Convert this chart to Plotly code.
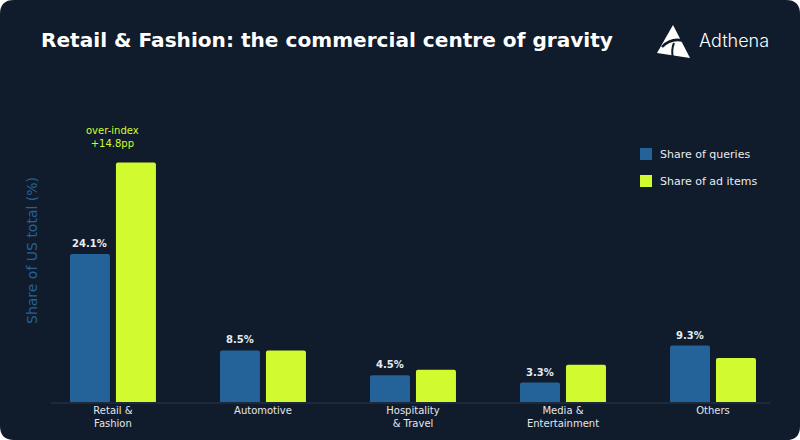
import plotly.graph_objects as go

categories = ["Retail &<br>Fashion", "Automotive", "Hospitality<br>& Travel", "Media &<br>Entertainment", "Others"]
share_queries = [24.1, 8.5, 4.5, 3.3, 9.3]
share_ad_items = [38.9, 8.5, 5.4, 6.2, 7.3]
query_labels = ["24.1%", "8.5%", "4.5%", "3.3%", "9.3%"]
series_names = ["Share of queries", "Share of ad items"]

BG = "#101b2b"
BLUE = "#24629a"
GREEN = "#d2fb2f"
FONT = "DejaVu Sans"

W, H = 800, 440
L, R, T, B = 51, 30, 100, 37
PW, PH = W - L - R, H - T - B

def px(x):
    return (x - L) / PW

def py(y):
    return (H - B - y) / PH

idx = list(range(len(categories)))
colors = [BLUE, GREEN]

fig = go.Figure()
for name, vals, c in zip(series_names, [share_queries, share_ad_items], colors):
    fig.add_trace(go.Bar(x=idx, y=vals, name=name, marker=dict(color=c, cornerradius=2, line_width=0),
                         hoverinfo="skip", showlegend=False))

ann = []
off = 23 / 150
for i, (v, t) in enumerate(zip(share_queries, query_labels)):
    ann.append(dict(x=i - off, y=v, xref="x", yref="y", text=t, showarrow=False, yanchor="bottom", yshift=3,
                    font=dict(family=FONT, size=10, color="#e8ecf1", weight=600)))
ann.append(dict(x=0, y=share_ad_items[0], xref="x", yref="y",
                text="over-index<br>+%.1fpp" % (share_ad_items[0] - share_queries[0]),
                showarrow=False, yanchor="bottom", yshift=12,
                font=dict(family=FONT, size=10, color=GREEN)))
# title
ann.append(dict(x=px(39), y=py(40), xref="paper", yref="paper", xanchor="left", yanchor="middle",
                text="<b>Retail & Fashion: the commercial centre of gravity</b>", showarrow=False,
                font=dict(family=FONT, size=20.1, color="white")))
# logo text
ann.append(dict(x=px(697), y=py(41), xref="paper", yref="paper", xanchor="left", yanchor="middle",
                text="Adthena", showarrow=False, font=dict(family="Inter", size=18, color="white", weight=300)))
# y axis title
ann.append(dict(x=px(32), y=py(251), xref="paper", yref="paper", xanchor="center", yanchor="middle",
                text="Share of US total (%)", textangle=-90, showarrow=False,
                font=dict(family=FONT, size=14, color=BLUE)))

shapes = []
# manual legend
for k, (name, c) in enumerate(zip(series_names, colors)):
    yc = 154 + 27 * k
    shapes.append(dict(type="rect", x0=px(640), x1=px(652), y0=py(yc - 6), y1=py(yc + 6), xref="paper",
                       yref="paper", fillcolor=c, line_width=0))
    ann.append(dict(x=px(658), y=py(yc), xref="paper", yref="paper", xanchor="left", yanchor="middle",
                    text=name, showarrow=False, font=dict(family=FONT, size=11, color="#e8ecf1")))

def path_px(pts, close=True):
    s = "M %f %f" % (px(pts[0][0]), py(pts[0][1]))
    for p in pts[1:]:
        s += " L %f %f" % (px(p[0]), py(p[1]))
    return s + (" Z" if close else "")

# rounded card
r = 14
x0, y0, x1, y1 = 0, 0, 800, 440
card = ("M %f %f L %f %f Q %f %f %f %f L %f %f Q %f %f %f %f L %f %f Q %f %f %f %f L %f %f Q %f %f %f %f Z" % (
    px(x0 + r), py(y0), px(x1 - r), py(y0), px(x1), py(y0), px(x1), py(y0 + r),
    px(x1), py(y1 - r), px(x1), py(y1), px(x1 - r), py(y1),
    px(x0 + r), py(y1), px(x0), py(y1), px(x0), py(y1 - r),
    px(x0), py(y0 + r), px(x0), py(y0), px(x0 + r), py(y0)))
shapes.append(dict(type="path", path=card, xref="paper", yref="paper", fillcolor=BG, line_width=0, layer="below"))
# logo icon
shapes.append(dict(type="path", path=path_px([(673, 25), (690, 58), (657, 53)]), xref="paper", yref="paper",
                   fillcolor="white", line_width=0))
shapes.append(dict(type="path",
                   path="M %f %f Q %f %f %f %f" % (px(662), py(47), px(672), py(36), px(688), py(42)),
                   xref="paper", yref="paper", line=dict(color=BG, width=2.5)))
shapes.append(dict(type="path",
                   path="M %f %f Q %f %f %f %f" % (px(674), py(43), px(671), py(50), px(673), py(58)),
                   xref="paper", yref="paper", line=dict(color=BG, width=2)))
# axis baseline
shapes.append(dict(type="line", x0=0, x1=1, y0=0, y1=0, xref="paper", yref="paper",
                   line=dict(color="#1d2a3b", width=2), layer="above"))

fig.update_layout(
    width=W, height=H, margin=dict(l=L, r=R, t=T, b=B, autoexpand=False),
    paper_bgcolor="white", plot_bgcolor="rgba(0,0,0,0)",
    barmode="group", bargap=0.387, bargroupgap=0.13,
    showlegend=False,
    xaxis=dict(range=[-0.413, 4.38], tickvals=idx, ticktext=categories, showgrid=False, zeroline=False,
               showline=False, ticks="", tickfont=dict(family=FONT, size=10, color="#e3e7ec"), fixedrange=True,
               automargin=False),
    yaxis=dict(range=[0, PH / 6.18], visible=False, fixedrange=True, automargin=False),
    annotations=ann, shapes=shapes,
    font=dict(family=FONT),
)
fig.write_html("out.html")
